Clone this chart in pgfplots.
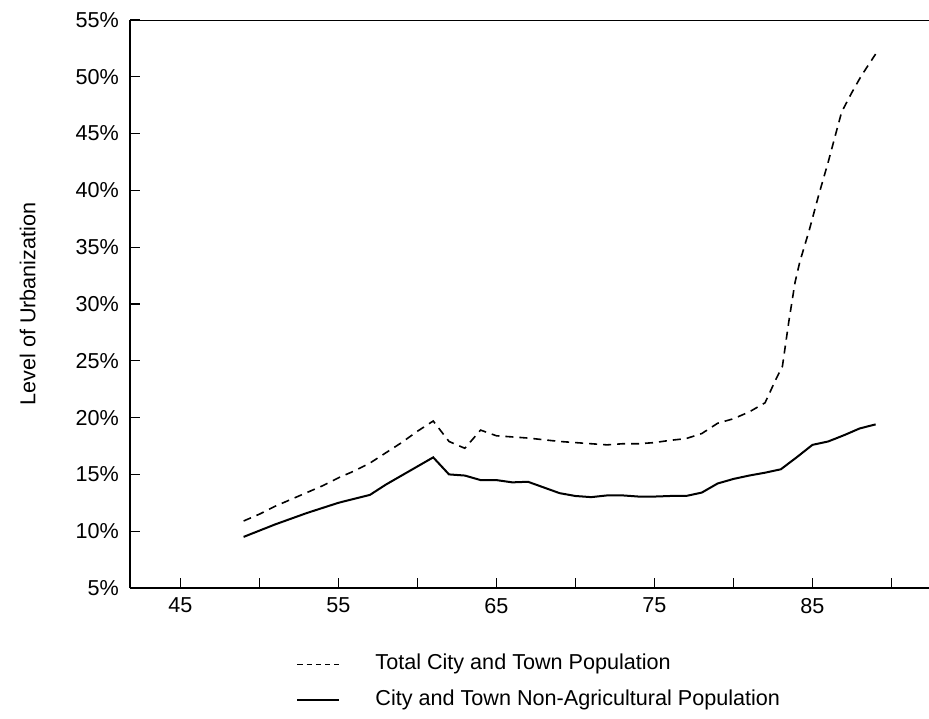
\documentclass[border=0pt]{standalone}
\usepackage{pgfplots}
\pgfplotsset{compat=1.18}
\usepackage{pgfplotstable}
\usepackage{fontspec}
\setmainfont{Liberation Sans}

\pgfplotstableread{
year total
49 10.9
50 11.5
51 12.2
52 12.8
53 13.4
54 14.0
55 14.7
56 15.3
57 16.0
58 16.9
59 17.8
60 18.8
61 19.7
62 17.9
63 17.3
64 18.9
65 18.4
66 18.3
67 18.2
68 18.05
69 17.9
70 17.8
71 17.7
72 17.6
73 17.7
74 17.7
75 17.8
76 18.0
77 18.15
78 18.6
79 19.5
80 19.9
81 20.5
82 21.3
82.7 23.4
83.1 24.5
83.5 28.4
83.9 31.9
84.2 33.7
84.8 36.5
85.4 39.6
86.0 42.5
86.5 45.1
86.85 46.9
87.45 48.5
88.1 50.1
89 52.0
}\totaltab

\pgfplotstableread{
year nonag
49 9.5
50 10.05
51 10.6
52 11.1
53 11.6
54 12.05
55 12.5
56 12.85
57 13.2
58 14.1
59 14.9
60 15.7
61 16.5
62 15.0
63 14.9
64 14.5
65 14.5
66 14.3
67 14.35
68 13.85
69 13.35
70 13.1
71 13.0
72 13.15
73 13.15
74 13.05
75 13.05
76 13.1
77 13.1
78 13.4
79 14.2
80 14.6
81 14.9
82 15.15
83 15.45
84 16.5
85 17.6
86 17.9
87 18.45
88 19.05
89 19.4
}\nonagtab

\begin{document}
\begin{tikzpicture}
\useasboundingbox (0,0) rectangle (464.5pt,359pt);
\begin{axis}[
  at={(65pt,65pt)}, anchor=south west,
  scale only axis, width=399.5pt, height=284pt,
  xmin=41.81, xmax=92.38, ymin=5, ymax=55,
  axis x line*=bottom, axis y line*=left,
  x axis line style={-, line width=1pt},
  y axis line style={-, line width=1pt},
  xtick={45,55,65,75,85},
  minor xtick={50,60,70,80,90},
  ytick={5,10,...,55},
  tick align=inside,
  major tick length=5pt, minor tick length=5pt,
  every tick/.style={black, line width=0.6pt},
  /pgf/number format/assume math mode=true,
  tick label style={font=\fontsize{10.8}{13}\selectfont},
  xticklabel style={yshift=-1.5pt},
  yticklabel style={xshift=-2pt},
  yticklabel={\pgfmathprintnumber{\tick}\%},
  ylabel={Level of Urbanization},
  ylabel style={at={(axis description cs:-0.128,0.5)}, anchor=center, font=\fontsize{10.8}{13}\selectfont},
  legend style={draw=none, fill=none, at={(axis description cs:0.2078,-0.1153)}, anchor=north west,
    font=\fontsize{10.8}{13}\selectfont, inner sep=0pt, row sep=7.5pt, column sep=17.5pt,
    nodes={inner sep=0pt, text height=8pt, text depth=2.5pt}},
  legend cell align=left,
  legend image code/.code={\draw[#1] (0pt,0pt) -- (21pt,0pt);},
]
\addplot[black, line width=0.8pt, dash pattern=on 4pt off 3pt,
  legend image code/.code={\draw[black, line width=0.6pt, dash pattern=on 2.6pt off 2pt] (0pt,0pt) -- (21pt,0pt);}]
  table[x=year,y=total] {\totaltab};
\addlegendentry{Total City and Town Population}
\addplot[black, line width=1pt] table[x=year,y=nonag] {\nonagtab};
\addlegendentry{City and Town Non-Agricultural Population}
\draw[line width=1pt] (rel axis cs:0,1) -- (rel axis cs:1,1);
\end{axis}
\end{tikzpicture}
\end{document}
